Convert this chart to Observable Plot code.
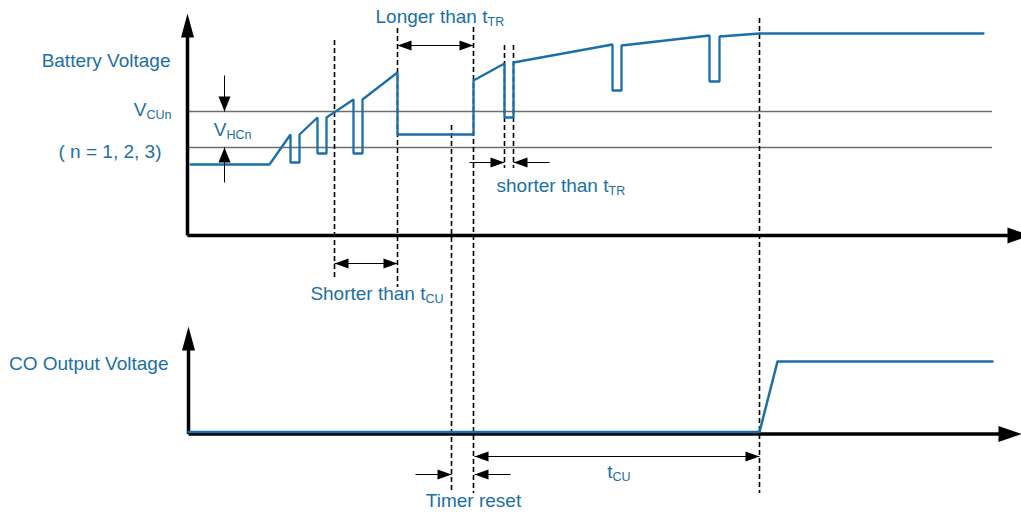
<!DOCTYPE html>
<html>
<head>
<meta charset="utf-8">
<script src="https://cdn.jsdelivr.net/npm/d3@7"></script>
<script src="https://cdn.jsdelivr.net/npm/@observablehq/plot@0.6"></script>
<style>
  html, body { margin: 0; padding: 0; background: #fff; overflow: hidden; }
</style>
</head>
<body>
<div id="chart"></div>
<script>
// ---- data (time units along x, signal level units along y) ----
const batteryT = [190,269,290,290,299,299,317,317,326,326,353,353,362,362,397,397,473,473,504,504,513,513,612,612,621,621,709,709,719,719,759,983];
const batteryV = [351,351,381,353,353,381,398,362,362,398,416,362,362,416,443,381,381,435,452,398,398,453,471,425,425,470,480,434,434,479,482,482];
const coT = [188,759,777,992];
const coV = [83.5,83.5,154,154];
const thresholdNames = ["VCUn","VCUn - VHCn"];
const thresholdV = [404,368];
const thresholdSpan = [187,992];
const markerT = [334,397,451,473,504,513,759];
const markerTop = [475,487,390,488,470,470,497];
const markerBottom = [235,228,22,22,347,347,22];
// axes: [x0, y0, xTip, yTip]
const axisTop = [187,280,1030,502];
const axisBottom = [188,81.5,1021,189];
// double-headed spans
const spanStart = [397,334,474];
const spanEnd   = [473,397,759];
const spanLevel = [470,252,59];
// single-sided pointers
const pointerFrom = [469,549,415,510];
const pointerTip  = [504,513,451,474];
const pointerLevel= [353,353,41,41];
// hysteresis marker
const hystT = 224, hystTop = [440,404], hystBottom = [368,333];
// labels
const plainText = ["Battery Voltage","( n = 1, 2, 3)","CO Output Voltage","Timer reset"];
const plainX = [170,161,168,473];
const plainY = [449,358,146,9];
const plainAnchor = ["end","end","end","middle"];
const subMain = ["V","V","Longer than t","shorter than t","Shorter than t","t"];
const subText = ["CUn","HCn","TR","TR","CU","CU"];
const subX = [146,226,487,608,425,612];
const subY = [400,380,493,324,216,38];

const blue = "#1b6fa8";
const ff = "'Liberation Sans', Arial, Helvetica, sans-serif";

function head(dir, len, half) {
  const pts = {
    up: [[0,0],[-half,len],[half,len]],
    down: [[0,0],[-half,-len],[half,-len]],
    right: [[0,0],[-len,-half],[-len,half]],
    left: [[0,0],[len,-half],[len,half]]
  }[dir];
  return {draw(ctx) { ctx.moveTo(pts[0][0],pts[0][1]); ctx.lineTo(pts[1][0],pts[1][1]); ctx.lineTo(pts[2][0],pts[2][1]); ctx.closePath(); }};
}

const battery = batteryT.map((t,i) => ({t, v: batteryV[i]}));
const co = coT.map((t,i) => ({t, v: coV[i]}));
const thresholds = thresholdNames.map((n,i) => ({n, v: thresholdV[i]}));
const markers = markerT.map((t,i) => ({t, y1: markerTop[i], y2: markerBottom[i]}));
const spans = spanStart.map((s,i) => ({s, e: spanEnd[i], v: spanLevel[i]}));
const pointers = pointerFrom.map((f,i) => ({f, tip: pointerTip[i], v: pointerLevel[i]}));
const axes = [axisTop, axisBottom].map(a => ({x0:a[0], y0:a[1], xt:a[2], yt:a[3]}));
const plain = plainText.map((text,i) => ({text, x: plainX[i], y: plainY[i], a: plainAnchor[i]}));
const subs = subMain.map((m,i) => ({m, s: subText[i], x: subX[i], y: subY[i]}));

const txt = (data, opts) => Plot.text(data, {fill: blue, fontFamily: ff, lineAnchor: "bottom", ...opts});

const chart = Plot.plot({
  width: 1021, height: 515,
  marginTop: 0, marginRight: 0, marginBottom: 0, marginLeft: 0,
  x: {domain: [0,1021], range: [0,1021], axis: null},
  y: {domain: [0,515], range: [515,0], axis: null},
  style: {background: "white", overflow: "hidden"},
  marks: [
    Plot.ruleY(thresholds, {y: "v", x1: thresholdSpan[0], x2: thresholdSpan[1], stroke: "#6e6e6e", strokeWidth: 1.6}),
    Plot.link(axes, {x1: "x0", y1: "y0", x2: "x0", y2: d => d.yt - 12, stroke: "black", strokeWidth: 3.5}),
    Plot.link(axes, {x1: "x0", y1: "y0", x2: d => d.xt - 12, y2: "y0", stroke: "black", strokeWidth: 3.5}),
    Plot.dot(axes, {x: "x0", y: "yt", symbol: head("up", 24, 6.5), fill: "black", r: 5}),
    Plot.dot(axes, {x: "xt", y: "y0", symbol: head("right", 23, 8), fill: "black", r: 5}),
    Plot.ruleX(markers, {x: "t", y1: "y1", y2: "y2", stroke: "black", strokeWidth: 1.6, strokeDasharray: "5,3"}),
    Plot.line(co, {x: "t", y: "v", stroke: blue, strokeWidth: 2.5}),
    Plot.line(battery, {x: "t", y: "v", stroke: blue, strokeWidth: 2.3, strokeLinejoin: "miter"}),
    Plot.link(spans, {x1: "s", x2: "e", y1: "v", y2: "v", stroke: "black", strokeWidth: 1}),
    Plot.dot(spans, {x: "s", y: "v", symbol: head("left", 14, 5), fill: "black", r: 5}),
    Plot.dot(spans, {x: "e", y: "v", symbol: head("right", 14, 5), fill: "black", r: 5}),
    Plot.link(pointers, {x1: "f", x2: "tip", y1: "v", y2: "v", stroke: "black", strokeWidth: 1}),
    Plot.dot(pointers.filter(d => d.tip > d.f), {x: "tip", y: "v", symbol: head("right", 14, 5), fill: "black", r: 5}),
    Plot.dot(pointers.filter(d => d.tip < d.f), {x: "tip", y: "v", symbol: head("left", 14, 5), fill: "black", r: 5}),
    Plot.link([{a: hystTop[0], b: hystTop[1]}, {a: hystBottom[0], b: hystBottom[1]}], {x1: hystT, x2: hystT, y1: "a", y2: "b", stroke: "black", strokeWidth: 1}),
    Plot.dot([hystTop[1]], {x: hystT, y: d => d, symbol: head("down", 15, 6), fill: "black", r: 5}),
    Plot.dot([hystBottom[0]], {x: hystT, y: d => d, symbol: head("up", 15, 6), fill: "black", r: 5}),
    txt(plain.filter(d => d.a === "end"), {x: "x", y: "y", text: "text", textAnchor: "end", fontSize: 19}),
    txt(plain.filter(d => d.a === "middle"), {x: "x", y: "y", text: "text", textAnchor: "middle", fontSize: 19}),
    txt(subs, {x: "x", y: "y", text: "m", textAnchor: "end", fontSize: 19}),
    txt(subs, {x: "x", y: d => d.y - 3, text: "s", textAnchor: "start", fontSize: 12.5})
  ]
});
document.getElementById("chart").appendChild(chart);
</script>
</body>
</html>
